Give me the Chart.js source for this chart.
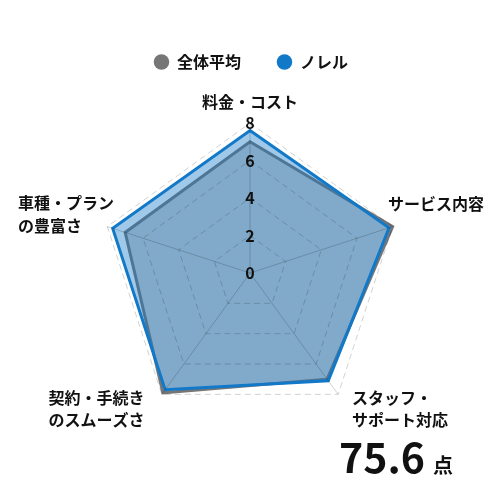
<!DOCTYPE html>
<html>
<head>
<meta charset="utf-8">
<script src="https://cdn.jsdelivr.net/npm/chart.js@4"></script>
<style>
  body { margin: 0; background: #fff; }
  #wrap { position: relative; width: 500px; height: 500px; }
  #score {
    position: absolute; left: 339px; top: 435px; line-height: 1;
    font-family: "Noto Sans CJK JP", "Noto Sans", sans-serif;
    font-weight: 700; font-size: 41px; color: #111; white-space: nowrap;
  }
  #score span { font-size: 20px; margin-left: 8px; }
</style>
</head>
<body>
<div id="wrap">
  <canvas id="radarChart" width="500" height="500"></canvas>
  <div id="score">75.6<span>点</span></div>
</div>
<script>
// Axis labels, clockwise from the top (spaces nudge the text like the original)
const categories = [
  "料金・コスト",
  "サービス内容",
  ["\u3000 スタッフ・", "\u3000 サポート対応"],
  ["契約・手続き\u3000  ", "のスムーズさ\u3000  "],
  ["車種・プラン\u3000\u2002 ", "の豊富さ\u3000\u3000\u3000\u2002 "]
];

// Scores (0-8 scale)
const noreruScores = [7.6, 7.8, 7.1, 7.7, 7.7];
const averageScores = [7.0, 8.0, 7.0, 7.9, 7.0];

const seriesNames = ["ノレル", "全体平均"];

// per-label distance from the outer ring and line height
const labelPadding = [0, -15, -20, -20, -46];
const labelLineHeight = [1.375, 3.0, 1.4, 1.4, 1.44];

const FONT = "'Noto Sans CJK JP', 'Noto Sans', sans-serif";

const ctx = document.getElementById("radarChart").getContext("2d");

new Chart(ctx, {
  type: "radar",
  data: {
    labels: categories,
    datasets: [{
      label: seriesNames[0],
      data: noreruScores,
      backgroundColor: "rgba(18, 120, 200, 0.4)",
      borderColor: "#1278c8",
      borderWidth: 3,
      pointRadius: 0,
      pointHoverRadius: 0
    }, {
      label: seriesNames[1],
      data: averageScores,
      backgroundColor: "rgba(128, 128, 128, 0.4)",
      borderColor: "#767676",
      borderWidth: 3,
      pointRadius: 0,
      pointHoverRadius: 0
    }]
  },
  options: {
    responsive: false,
    animation: false,
    layout: {
      padding: { top: 18, bottom: 56, left: 6, right: 4 }
    },
    plugins: {
      tooltip: { enabled: false },
      legend: {
        position: "top",
        reverse: true,
        labels: {
          usePointStyle: true,
          pointStyle: "circle",
          boxWidth: 15,
          boxHeight: 11,
          padding: 36,
          color: "#111",
          font: { family: FONT, size: 16, weight: "bold" },
          generateLabels: function(chart) {
            const items = Chart.defaults.plugins.legend.labels.generateLabels(chart);
            items.forEach(item => {
              const ds = chart.data.datasets[item.datasetIndex];
              item.fillStyle = ds.borderColor;
              item.strokeStyle = ds.borderColor;
              item.lineWidth = 0;
            });
            return items;
          }
        }
      }
    },
    scales: {
      r: {
        min: -0.001,
        max: 8,
        ticks: {
          stepSize: 2,
          z: 2,
          showLabelBackdrop: false,
          color: "#111",
          font: { family: FONT, size: 16, weight: "bold" },
          callback: value => String(Math.round(value))
        },
        grid: {
          z: 1,
          color: "rgba(0, 0, 0, 0.18)",
          lineWidth: 1
        },
        border: {
          dash: [6, 4]
        },
        angleLines: {
          color: "rgba(0, 0, 0, 0.18)",
          lineWidth: 1
        },
        pointLabels: {
          color: "#111",
          padding: context => labelPadding[context.index],
          font: context => ({
            family: FONT, size: 16, weight: "bold",
            lineHeight: labelLineHeight[context.index]
          })
        }
      }
    }
  }
});
</script>
</body>
</html>
